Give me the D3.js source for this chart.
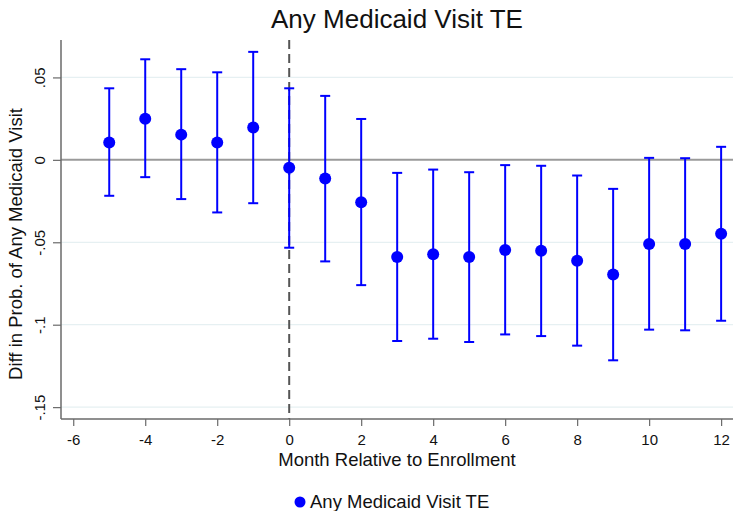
<!DOCTYPE html>
<html>
<head>
<meta charset="utf-8">
<script src="https://cdn.jsdelivr.net/npm/d3@7"></script>
<style>
  html, body { margin: 0; padding: 0; background: #fff; }
  svg { display: block; font-family: "Liberation Sans", Arial, Helvetica, sans-serif; }
</style>
</head>
<body>
<svg id="chart" width="735" height="511"></svg>
<script>
// Event-study estimates: month relative to enrollment, point estimate, 95% CI bounds
const months   = [-5, -4, -3, -2, -1, 0, 1, 2, 3, 4, 5, 6, 7, 8, 9, 10, 11, 12];
const estimate = [0.0105, 0.025, 0.0153, 0.0105, 0.0196, -0.0048, -0.0113, -0.0257,
                  -0.059, -0.0572, -0.059, -0.0547, -0.0552, -0.0612, -0.0695, -0.0511, -0.0511, -0.0448];
const ciLow    = [-0.0218, -0.0105, -0.0238, -0.0319, -0.0263, -0.0533, -0.0616, -0.076,
                  -0.1099, -0.1085, -0.1105, -0.1059, -0.1069, -0.1127, -0.1216, -0.103, -0.1034, -0.0976];
const ciHigh   = [0.0434, 0.061, 0.055, 0.0531, 0.0655, 0.0434, 0.0388, 0.0248,
                  -0.0079, -0.0059, -0.0075, -0.0032, -0.0036, -0.0095, -0.0176, 0.0012, 0.001, 0.0079];

const xTicks = [-6, -4, -2, 0, 2, 4, 6, 8, 10, 12];
const xTickLabels = ["-6", "-4", "-2", "0", "2", "4", "6", "8", "10", "12"];
const yTicks = [0.05, 0, -0.05, -0.1, -0.15];
const yTickLabels = [".05", "0", "-.05", "-.1", "-.15"];
const gridValues = [0.05, -0.05, -0.1, -0.15];

const titleText = "Any Medicaid Visit TE";
const xTitle = "Month Relative to Enrollment";
const yTitle = "Diff in Prob. of Any Medicaid Visit";
const legendText = "Any Medicaid Visit TE";

const svg = d3.select("#chart");
const plot = { left: 61, right: 733, top: 40, bottom: 419 };

const x = d3.scaleLinear().domain([-6.34, 12.33]).range([plot.left, plot.right]);
const y = d3.scaleLinear().domain([-0.1572, 0.0727]).range([plot.bottom, plot.top]);

const blue = "#0000ff";

// horizontal grid lines
svg.append("g").selectAll("line").data(gridValues).join("line")
  .attr("x1", plot.left).attr("x2", plot.right)
  .attr("y1", d => y(d)).attr("y2", d => y(d))
  .attr("stroke", "#e6f0f2").attr("stroke-width", 1.2);

// zero reference line
svg.append("line")
  .attr("x1", plot.left).attr("x2", plot.right)
  .attr("y1", y(0)).attr("y2", y(0))
  .attr("stroke", "#9a9a9a").attr("stroke-width", 2);

// enrollment month marker
svg.append("line")
  .attr("x1", x(0)).attr("x2", x(0))
  .attr("y1", plot.top).attr("y2", plot.bottom)
  .attr("stroke", "#555").attr("stroke-width", 2)
  .attr("stroke-dasharray", "9,5");

// y axis
const yAxis = d3.axisLeft(y).tickValues(yTicks)
  .tickFormat((d, i) => yTickLabels[i]).tickSize(8).tickPadding(6);
const gy = svg.append("g").attr("transform", `translate(${plot.left},0)`).call(yAxis);
gy.select(".domain").attr("stroke", "#6a6a6a").attr("stroke-width", 1.5)
  .attr("d", `M-0,${plot.top}V${plot.bottom}`);
gy.selectAll(".tick line").attr("stroke", "#6a6a6a").attr("stroke-width", 1.2);
gy.selectAll(".tick text")
  .attr("font-size", 15).attr("fill", "#111")
  .attr("text-anchor", "middle")
  .attr("transform", "rotate(-90)")
  .attr("x", 0).attr("y", -16).attr("dy", 0);

// x axis
const xAxis = d3.axisBottom(x).tickValues(xTicks)
  .tickFormat((d, i) => xTickLabels[i]).tickSize(7).tickPadding(6);
const gx = svg.append("g").attr("transform", `translate(0,${plot.bottom})`).call(xAxis);
gx.select(".domain").attr("stroke", "#6a6a6a").attr("stroke-width", 1.5)
  .attr("d", `M${plot.left},0H${plot.right}`);
gx.selectAll(".tick line").attr("stroke", "#6a6a6a").attr("stroke-width", 1.2);
gx.selectAll(".tick text").attr("font-size", 15).attr("fill", "#111")
  .attr("dy", 0).attr("y", 26);

// error bars
const bars = svg.append("g").attr("stroke", blue).attr("stroke-width", 2);
months.forEach((m, i) => {
  const cx = x(m);
  bars.append("line").attr("x1", cx).attr("x2", cx)
    .attr("y1", y(ciLow[i])).attr("y2", y(ciHigh[i]));
  bars.append("line").attr("x1", cx - 5).attr("x2", cx + 5)
    .attr("y1", y(ciLow[i])).attr("y2", y(ciLow[i]));
  bars.append("line").attr("x1", cx - 5).attr("x2", cx + 5)
    .attr("y1", y(ciHigh[i])).attr("y2", y(ciHigh[i]));
});

// point estimates
svg.append("g").selectAll("circle").data(months).join("circle")
  .attr("cx", d => x(d))
  .attr("cy", (d, i) => y(estimate[i]))
  .attr("r", 6)
  .attr("fill", blue);

// titles
svg.append("text").attr("x", (plot.left + plot.right) / 2).attr("y", 28)
  .attr("text-anchor", "middle").attr("font-size", 26).attr("fill", "#111")
  .text(titleText);

svg.append("text").attr("x", (plot.left + plot.right) / 2).attr("y", 466)
  .attr("text-anchor", "middle").attr("font-size", 18.5).attr("fill", "#111")
  .text(xTitle);

svg.append("text")
  .attr("transform", `translate(22,244) rotate(-90)`)
  .attr("text-anchor", "middle").attr("font-size", 18.5).attr("fill", "#111")
  .text(yTitle);

// legend
const legend = svg.append("g");
legend.append("circle").attr("cx", 300).attr("cy", 502).attr("r", 5.5).attr("fill", blue);
legend.append("text").attr("x", 310).attr("y", 508)
  .attr("font-size", 18.5).attr("fill", "#111").text(legendText);
</script>
</body>
</html>
